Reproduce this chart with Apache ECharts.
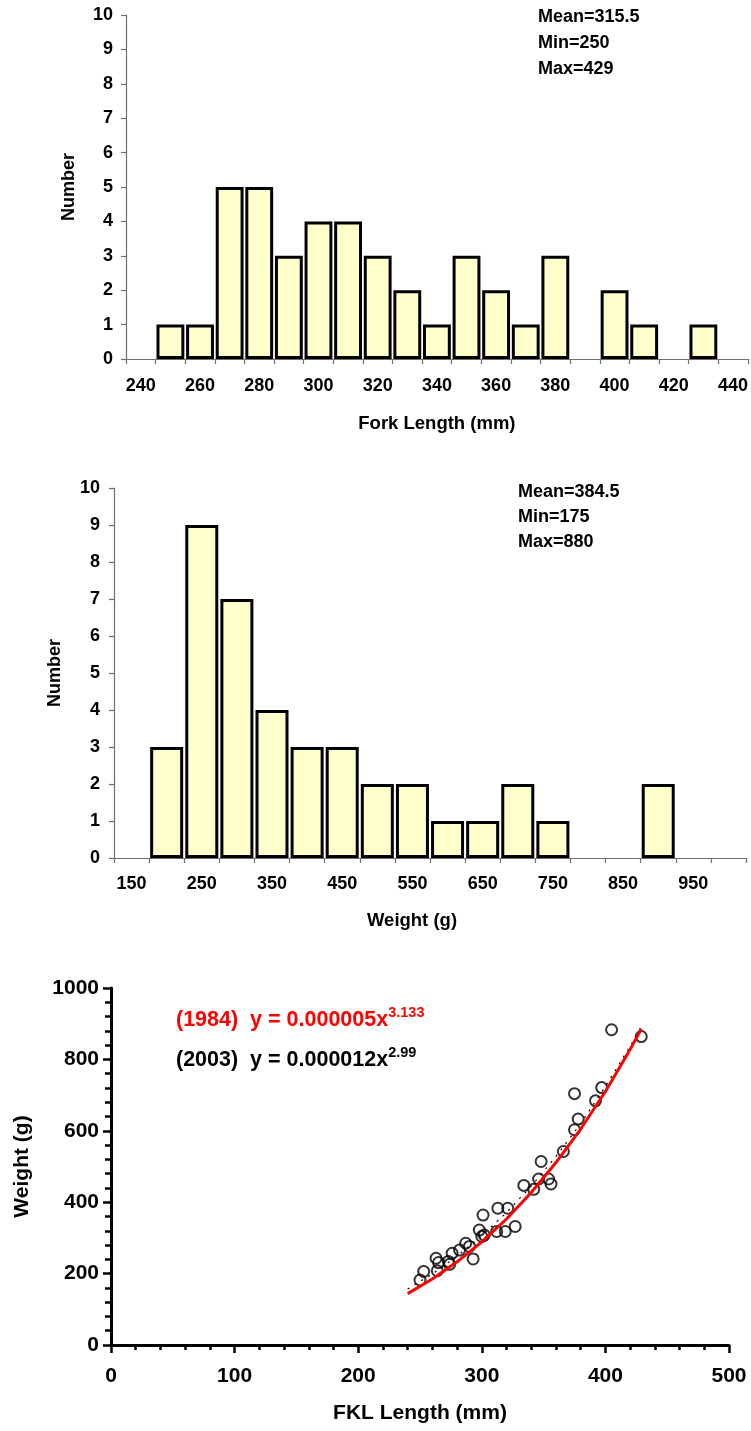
<!DOCTYPE html>
<html>
<head>
<meta charset="utf-8">
<script src="https://cdn.jsdelivr.net/npm/echarts@6/dist/echarts.min.js"></script>
<style>
html,body{margin:0;padding:0;background:#fff;}
#c{width:751px;height:1431px;}
</style>
</head>
<body>
<div id="c"></div>
<script>
// ---- Data ----
const fkCategories = ['240','250','260','270','280','290','300','310','320','330','340','350','360','370','380','390','400','410','420','430','440'];
const fkCounts     = [0,1,1,5,5,3,4,4,3,2,1,3,2,1,3,0,2,1,0,1,0];
const fkStats      = [315.5, 250, 429]; // mean, min, max

const wtCategories = ['150','200','250','300','350','400','450','500','550','600','650','700','750','800','850','900','950','1000'];
const wtCounts     = [0,3,9,7,4,3,3,2,2,1,1,2,1,0,0,2,0,0];
const wtStats      = [384.5, 175, 880];

const fishLW = [
  [250,182],[253,206],[264,208],[263,243],[265,231],[273,234],[274,226],[276,257],
  [282,266],[287,285],[290,276],[293,241],[298,322],[300,304],[302,308],[301,364],
  [312,318],[313,383],[319,318],[321,383],[327,332],[334,447],[342,436],[346,465],
  [348,514],[354,465],[356,451],[366,542],[375,603],[375,704],[378,633],[392,684],
  [397,721],[405,883],[429,864]
];
const fit1984 = [[240,144],[260,185],[280,233],[300,289],[320,353],[340,427],[360,511],[380,605],[400,710],[420,828],[429,885]];
const fit2003 = [[240,157],[260,199],[280,249],[300,306],[320,371],[340,445],[360,528],[380,620],[400,724],[420,837],[429,892]];

// ---- Chart ----
const FONT = '"Liberation Sans", Arial, sans-serif';
const histAxisLine = {lineStyle:{color:'#6e6e6e', width:1.2}};
const histTick = {show:true, length:5, lineStyle:{color:'#6e6e6e', width:1.2}};
const lbl = (size, extra) => Object.assign({color:'#000', fontFamily:FONT, fontWeight:'bold', fontSize:size}, extra||{});
const toBar = arr => arr.map(v => v === 0 ? '-' : v);
const plain = v => String(v);

const chart = echarts.init(document.getElementById('c'), null, {renderer:'canvas'});
chart.setOption({
  backgroundColor:'#fff',
  animation:false,
  grid:[
    {left:126, top:15, width:623, height:344},
    {left:114, top:488, width:632, height:370},
    {left:111, top:988, width:618, height:357}
  ],
  xAxis:[
    {gridIndex:0, type:'category', data:fkCategories, boundaryGap:true,
     axisLine:histAxisLine, axisTick:Object.assign({interval:0, alignWithLabel:false}, histTick),
     axisLabel:lbl(18,{interval:1, margin:18}),
     name:'Fork Length (mm)', nameLocation:'middle', nameGap:55, nameTextStyle:lbl(18.5)},
    {gridIndex:1, type:'category', data:wtCategories, boundaryGap:true,
     axisLine:histAxisLine, axisTick:Object.assign({interval:0, alignWithLabel:false}, histTick),
     axisLabel:lbl(18,{interval:1, margin:17}),
     name:'Weight (g)', nameLocation:'middle', nameGap:53, nameTextStyle:lbl(18.5,{padding:[0,36,0,0]})},
    {gridIndex:2, type:'value', min:0, max:500, interval:100,
     axisLine:{lineStyle:{color:'#000', width:3}},
     axisTick:{show:true, length:8, lineStyle:{color:'#000', width:2.5}},
     minorTick:{show:true, splitNumber:5, length:5, lineStyle:{color:'#000', width:2.5}},
     splitLine:{show:false},
     axisLabel:lbl(21,{margin:21, formatter:plain}),
     name:'FKL Length (mm)', nameLocation:'middle', nameGap:58, nameTextStyle:lbl(21)}
  ],
  yAxis:[
    {gridIndex:0, type:'value', min:0, max:10, interval:1,
     axisLine:Object.assign({show:true}, histAxisLine), axisTick:histTick, splitLine:{show:false},
     axisLabel:lbl(18,{margin:13}),
     name:'Number', nameLocation:'middle', nameGap:48, nameTextStyle:lbl(18)},
    {gridIndex:1, type:'value', min:0, max:10, interval:1,
     axisLine:Object.assign({show:true}, histAxisLine), axisTick:histTick, splitLine:{show:false},
     axisLabel:lbl(18,{margin:14}),
     name:'Number', nameLocation:'middle', nameGap:50, nameTextStyle:lbl(18)},
    {gridIndex:2, type:'value', min:0, max:1000, interval:200,
     axisLine:{show:true, lineStyle:{color:'#000', width:3}},
     axisTick:{show:true, length:8, lineStyle:{color:'#000', width:2.5}},
     minorTick:{show:true, splitNumber:5, length:6, lineStyle:{color:'#000', width:2.5}},
     splitLine:{show:false},
     axisLabel:lbl(21,{margin:12, formatter:plain}),
     name:'Weight (g)', nameLocation:'middle', nameGap:78, nameTextStyle:lbl(21)}
  ],
  series:[
    {type:'bar', xAxisIndex:0, yAxisIndex:0, data:toBar(fkCounts), barCategoryGap:'6%',
     itemStyle:{color:'#FFFFCC', borderColor:'#000', borderWidth:3}},
    {type:'bar', xAxisIndex:1, yAxisIndex:1, data:toBar(wtCounts), barCategoryGap:'6%',
     itemStyle:{color:'#FFFFCC', borderColor:'#000', borderWidth:3}},
    {type:'scatter', xAxisIndex:2, yAxisIndex:2, data:fishLW, symbol:'circle', symbolSize:11, z:2,
     itemStyle:{color:'rgba(255,255,255,0)', borderColor:'#000', borderWidth:2}},
    {type:'line', xAxisIndex:2, yAxisIndex:2, data:fit2003, showSymbol:false, z:3,
     lineStyle:{color:'#000', width:1.2, type:[2,6]}},
    {type:'line', xAxisIndex:2, yAxisIndex:2, data:fit1984, showSymbol:false, z:4,
     lineStyle:{color:'#ff0000', width:3}}
  ],
  graphic:[
    {type:'text', left:538, top:4, style:{
      text:'Mean=' + fkStats[0] + '\nMin=' + fkStats[1] + '\nMax=' + fkStats[2],
      font:'bold 18px ' + FONT, lineHeight:26, fill:'#000'}},
    {type:'text', left:518, top:480, style:{
      text:'Mean=' + wtStats[0] + '\nMin=' + wtStats[1] + '\nMax=' + wtStats[2],
      font:'bold 18px ' + FONT, lineHeight:25, fill:'#000'}},
    {type:'text', left:176, top:1005, style:{
      text:'{m|(1984)  y = 0.000005x}{s|3.133}',
      rich:{
        m:{fontFamily:FONT, fontWeight:'bold', fontSize:21.5, lineHeight:30, fill:'#ff0000', color:'#ff0000'},
        s:{fontFamily:FONT, fontWeight:'bold', fontSize:14.5, lineHeight:14, verticalAlign:'top', fill:'#ff0000', color:'#ff0000'}
      }}},
    {type:'text', left:176, top:1045, style:{
      text:'{m|(2003)  y = 0.000012x}{s|2.99}',
      rich:{
        m:{fontFamily:FONT, fontWeight:'bold', fontSize:21.5, lineHeight:30, fill:'#000', color:'#000'},
        s:{fontFamily:FONT, fontWeight:'bold', fontSize:14.5, lineHeight:14, verticalAlign:'top', fill:'#000', color:'#000'}
      }}}
  ]
});
</script>
</body>
</html>
